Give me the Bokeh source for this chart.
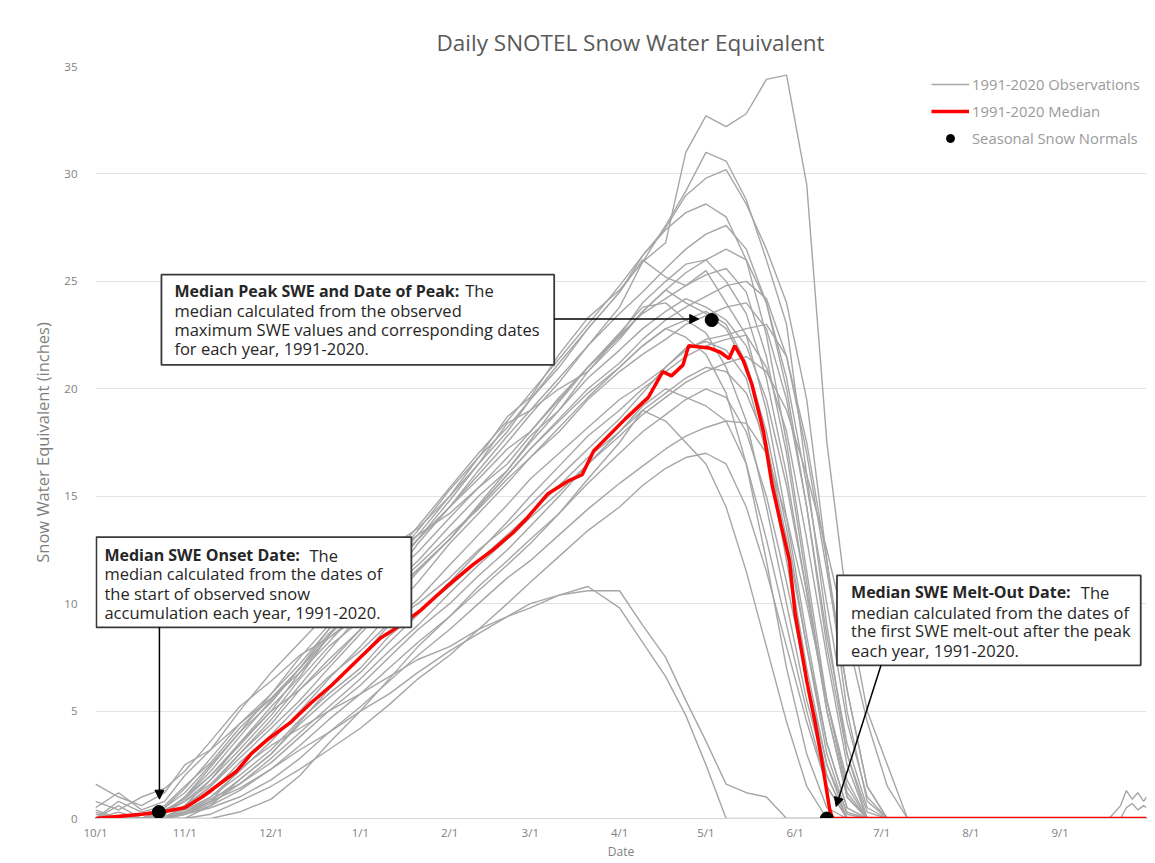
from bokeh.plotting import figure
from bokeh.models import (FixedTicker, BoxAnnotation, Label, Arrow, NormalHead,
                          Legend, LegendItem, Range1d)
from bokeh.embed import file_html
from bokeh.resources import INLINE

# ---------------- data (days since Oct 1) ----------------
month_days = [0, 31, 61, 92, 123, 151, 182, 212, 243, 273, 304, 335]
month_labels = ["10/1", "11/1", "12/1", "1/1", "2/1", "3/1", "4/1", "5/1", "6/1", "7/1", "8/1", "9/1"]
y_ticks = [0, 5, 10, 15, 20, 25, 30, 35]

grid_days = [0, 8, 16, 24, 31, 40, 50, 61, 71, 81, 92, 102, 112, 123, 133, 143, 151, 161,
             171, 182, 190, 198, 205, 212, 219, 226, 233, 240, 247, 254, 261, 268, 275, 282, 292]

obs_01 = [0, 0, 0, 0.3, 0.8, 1.8, 3.5, 5.2, 6.6, 8.5, 10.0, 11.9, 13.4, 15.3, 16.8, 18.7, 19.6, 21.6,
          23.3, 24.6, 25.9, 26.8, 31.0, 32.7, 32.2, 32.8, 34.4, 34.6, 29.5, 17.5, 10.0, 5.0, 2.5, 0]
obs_02 = [0, 0, 0, 0, 0.5, 1.5, 3.0, 4.6, 6.2, 7.8, 9.5, 11.0, 12.8, 14.5, 16.0, 17.5, 18.8, 20.3,
          22.0, 23.8, 25.9, 27.6, 29.2, 31.0, 30.6, 28.8, 26.0, 23.0, 16.0, 9.0, 3.0, 0]
obs_03 = [0.3, 0, 0, 0.2, 1.0, 2.2, 3.8, 5.5, 7.0, 8.6, 10.0, 11.5, 13.0, 14.8, 16.5, 18.0, 19.5, 21.2,
          22.8, 24.5, 26.2, 27.5, 29.0, 29.8, 30.2, 28.6, 26.5, 24.0, 19.5, 12.0, 5.0, 0.8, 0]
obs_04 = [0.5, 1.2, 0.4, 0.8, 2.0, 3.2, 5.0, 6.8, 8.2, 9.6, 11.0, 12.6, 13.5, 15.0, 16.8, 18.2, 19.5, 21.0,
          22.8, 24.5, 26.0, 25.2, 24.8, 25.5, 24.0, 22.5, 19.0, 14.0, 8.5, 3.5, 0.5, 0]
obs_05 = [0, 0, 0.2, 0.5, 1.2, 2.5, 4.0, 5.8, 7.2, 8.8, 10.4, 11.8, 13.0, 14.5, 15.8, 17.2, 18.0, 19.5,
          21.0, 22.5, 23.5, 24.2, 24.8, 25.3, 25.6, 24.5, 21.5, 17.0, 11.0, 5.0, 1.0, 0]
obs_06 = [0, 0.6, 0, 0, 0.6, 1.8, 3.2, 4.8, 6.5, 8.0, 9.2, 10.8, 12.0, 13.6, 15.0, 16.2, 17.5, 19.0,
          20.8, 22.3, 23.6, 24.6, 24.0, 23.5, 22.8, 21.0, 17.5, 12.5, 7.0, 2.5, 0]
obs_07 = [0, 0, 0, 0, 0.3, 1.0, 2.2, 3.6, 5.0, 6.5, 8.0, 9.5, 11.0, 12.8, 14.2, 15.6, 16.8, 18.0,
          19.5, 20.8, 21.6, 22.3, 23.0, 23.4, 23.8, 24.0, 22.8, 19.5, 14.5, 8.5, 3.5, 0.5, 0]
obs_08 = [0.2, 0, 0, 0.4, 0.9, 2.0, 3.5, 5.0, 6.0, 7.4, 8.8, 10.2, 11.6, 13.0, 14.5, 16.0, 17.2, 18.5,
          19.8, 21.0, 22.0, 22.8, 23.2, 23.6, 23.0, 21.2, 18.0, 13.5, 8.0, 3.0, 0.2, 0]
obs_09 = [0, 0, 0, 0, 0, 0.6, 1.8, 3.0, 4.5, 6.0, 7.5, 9.0, 10.2, 11.8, 13.2, 14.6, 15.8, 17.0,
          18.2, 19.5, 20.2, 21.0, 21.8, 22.3, 22.5, 22.8, 23.0, 21.5, 17.5, 12.0, 6.0, 1.5, 0]
obs_10 = [0, 0, 0, 0.1, 0.5, 1.2, 2.6, 3.9, 5.3, 6.6, 7.8, 9.1, 10.0, 11.2, 12.5, 13.6, 14.6, 15.9,
          17.2, 18.6, 19.8, 21.0, 21.9, 22.2, 21.8, 20.5, 17.0, 12.0, 6.5, 2.0, 0]
obs_11 = [0, 0, 0, 0, 0.4, 1.0, 2.0, 3.2, 4.6, 5.8, 7.0, 8.5, 9.6, 10.8, 12.0, 13.2, 14.2, 15.5,
          16.8, 18.0, 19.0, 19.8, 20.5, 21.0, 20.8, 19.8, 17.5, 13.0, 8.0, 3.5, 0.5, 0]
obs_12 = [0, 0.3, 0, 0, 0.2, 0.8, 1.8, 3.0, 4.4, 5.6, 6.8, 8.2, 9.5, 11.0, 12.4, 13.8, 15.0, 16.4,
          17.8, 19.0, 20.0, 20.8, 21.5, 22.0, 22.3, 22.5, 21.0, 18.0, 13.0, 7.5, 2.5, 0]
obs_13 = [0, 0, 0, 0, 0.3, 0.9, 1.6, 2.6, 3.8, 5.0, 6.2, 7.5, 8.8, 10.0, 11.3, 12.5, 13.6, 15.0,
          16.5, 18.0, 19.2, 20.0, 19.6, 19.2, 18.5, 16.5, 13.0, 9.0, 5.0, 1.5, 0]
obs_14 = [0, 0, 0, 0, 0.2, 0.6, 1.3, 2.3, 3.4, 4.6, 5.8, 7.0, 8.2, 9.4, 10.6, 11.8, 12.8, 14.2,
          15.8, 17.5, 19.0, 18.5, 17.5, 16.5, 14.5, 11.5, 8.0, 4.5, 1.5, 0]
obs_15 = [0, 0, 0, 0, 0.3, 0.8, 2.3, 3.4, 4.2, 5.0, 5.8, 6.6, 7.4, 8.0, 8.8, 9.4, 9.8, 10.4,
          10.8, 9.8, 8.2, 6.6, 4.8, 2.5, 0]
obs_16 = [0, 0, 0, 0, 0.3, 0.8, 1.4, 2.3, 3.2, 4.0, 5.0, 5.8, 6.8, 7.8, 8.6, 9.4, 10.0, 10.4,
          10.6, 10.6, 9.0, 7.5, 5.5, 3.6, 1.6, 1.2, 1.0, 0]
obs_17 = [0, 0, 0, 0, 0, 0, 0.3, 0.9, 2.0, 3.5, 5.0, 6.5, 8.0, 9.4, 10.8, 12.0, 13.0, 14.2,
          15.6, 17.0, 18.0, 18.8, 19.5, 20.0, 19.6, 18.0, 15.0, 11.0, 6.5, 2.5, 0.3, 0]
obs_18 = [1.6, 1.0, 0.6, 1.2, 2.5, 3.2, 4.4, 5.6, 6.8, 8.5, 10.5, 11.8, 13.2, 15.0, 16.5, 18.4, 19.0, 20.0,
          20.8, 22.5, 24.0, 25.0, 25.8, 26.0, 25.0, 23.5, 20.5, 16.0, 10.5, 5.0, 1.0, 0]
obs_19 = [0, 0, 0, 0.5, 1.4, 2.8, 4.4, 5.8, 7.5, 9.0, 10.8, 12.2, 13.2, 14.2, 15.4, 16.5, 17.8, 19.0,
          20.5, 21.8, 22.8, 23.6, 24.2, 23.8, 23.2, 22.0, 19.5, 15.5, 10.5, 5.5, 1.5, 0]
obs_20 = [0, 0, 0, 0.3, 1.0, 2.0, 3.4, 5.0, 6.8, 8.2, 9.8, 11.4, 13.0, 14.5, 16.2, 17.8, 19.0, 20.5,
          22.0, 23.5, 24.5, 25.6, 26.5, 27.2, 27.6, 26.5, 24.0, 20.0, 14.5, 8.0, 3.0, 0.3, 0]
obs_21 = [0, 0, 0, 0, 0.2, 0.7, 1.6, 2.8, 4.0, 5.2, 6.5, 7.8, 9.0, 10.5, 11.8, 13.0, 14.0, 15.2,
          16.5, 17.8, 18.8, 19.6, 20.3, 20.8, 21.2, 21.5, 20.8, 19.0, 16.0, 12.5, 8.5, 4.5, 1.5, 0]
obs_22 = [0, 0, 0, 0, 0, 0.2, 0.8, 1.5, 2.3, 3.2, 4.2, 5.3, 6.5, 7.6, 8.8, 10.0, 11.0, 12.2,
          13.4, 14.5, 15.5, 16.3, 16.8, 17.0, 16.5, 14.5, 11.5, 8.0, 4.5, 1.5, 0]
obs_23 = [0.4, 0, 0, 0, 0.6, 1.5, 2.8, 4.2, 5.5, 7.0, 8.6, 10.0, 11.5, 13.0, 14.5, 16.0, 17.2, 18.6,
          20.0, 21.2, 22.3, 23.2, 23.8, 24.3, 24.8, 25.0, 24.2, 21.5, 17.0, 11.5, 6.0, 1.5, 0]
obs_24 = [0, 0, 0, 0.2, 1.0, 2.4, 4.0, 5.4, 7.0, 8.8, 10.6, 12.0, 13.6, 15.4, 17.0, 18.5, 19.8, 21.4,
          23.0, 24.8, 26.2, 27.4, 28.2, 28.6, 28.0, 26.0, 22.5, 17.5, 11.5, 5.5, 1.2, 0]
obs_25 = [0, 0, 0, 0.3, 0.8, 1.6, 3.0, 4.4, 6.0, 7.2, 8.8, 10.4, 11.6, 13.0, 14.6, 16.2, 17.6, 19.4,
          21.0, 22.6, 23.8, 24.0, 23.2, 22.6, 21.0, 18.5, 14.5, 10.0, 5.5, 2.0, 0]
obs_26 = [0, 0.8, 0.3, 0.6, 1.5, 2.6, 4.2, 5.6, 7.0, 8.4, 9.6, 11.2, 12.4, 14.0, 15.4, 16.8, 18.0, 19.6,
          21.0, 22.4, 23.6, 24.6, 25.4, 26.0, 26.5, 26.0, 24.0, 20.5, 15.5, 10.0, 4.5, 1.0, 0]
obs_27 = [0, 0, 0, 0, 0.2, 0.5, 1.0, 1.8, 2.8, 4.0, 5.2, 6.4, 7.6, 8.8, 10.0, 11.2, 12.0, 13.2,
          14.4, 15.6, 16.4, 17.2, 17.8, 18.2, 18.5, 18.4, 17.0, 14.0, 10.0, 5.5, 1.8, 0]
obs_28 = [0.8, 0.4, 1.0, 1.4, 2.2, 3.6, 5.2, 6.4, 7.6, 8.4, 9.4, 10.6, 11.8, 13.2, 14.4, 15.8, 16.8, 18.2,
          19.6, 21.0, 22.0, 22.8, 22.4, 21.6, 19.8, 16.5, 12.0, 7.0, 3.0, 0.5, 0]

late_days = [340, 352, 356, 358, 360, 362, 364, 365]
late_obs_1 = [0, 0, 0.6, 1.3, 0.9, 1.2, 0.8, 1.0]
late_obs_2 = [0, 0, 0, 0.5, 0.7, 0.4, 0.6, 0.5]

median_days = [0, 16, 23, 31, 37, 42, 49, 54, 60, 68, 75, 82, 92, 99, 106, 113, 122, 131, 138, 145,
               150, 157, 164, 169, 173, 184, 192, 197, 200, 204, 206, 213, 217, 220, 222, 225, 228,
               232, 235, 238, 241, 243, 247, 250, 252, 255, 256, 365]
median_vals = [0, 0.2, 0.3, 0.5, 1.0, 1.5, 2.2, 3.0, 3.7, 4.5, 5.4, 6.2, 7.5, 8.4, 9.0, 9.7, 10.8, 11.8,
               12.5, 13.3, 14.0, 15.1, 15.7, 16.0, 17.1, 18.6, 19.6, 20.8, 20.6, 21.1, 22.0, 21.9, 21.7,
               21.4, 22.0, 21.3, 20.2, 18.0, 15.5, 13.7, 12.0, 9.5, 6.4, 4.4, 2.9, 0.4, 0, 0]

normal_days = [22, 214, 254]
normal_vals = [0.3, 23.2, 0.0]

obs_series = [obs_01, obs_02, obs_03, obs_04, obs_05, obs_06, obs_07, obs_08, obs_09, obs_10,
              obs_11, obs_12, obs_13, obs_14, obs_15, obs_16, obs_17, obs_18, obs_19, obs_20,
              obs_21, obs_22, obs_23, obs_24, obs_25, obs_26, obs_27, obs_28]

# ---------------- figure ----------------
FONT = "Open Sans"
TXT = "#7f7f7f"

p = figure(width=1151, height=862, output_backend="svg", toolbar_location=None,
           x_range=Range1d(0, 365), y_range=Range1d(0, 35),
           min_border_left=95, min_border_right=5, min_border_top=66, min_border_bottom=37)
p.outline_line_color = None
p.background_fill_color = "white"
p.border_fill_color = "white"

p.title.text = "Daily SNOTEL Snow Water Equivalent"
p.title.text_font = FONT
p.title.text_font_size = "22.5px"
p.title.text_font_style = "normal"
p.title.text_color = "#595959"
p.title.align = "left"
p.title.offset = 341
p.title.standoff = 17

p.xgrid.grid_line_color = None
p.ygrid.grid_line_color = "#e3e3e3"
p.ygrid.grid_line_width = 1

p.xaxis.ticker = FixedTicker(ticks=month_days)
p.xaxis.major_label_overrides = {d: l for d, l in zip(month_days, month_labels)}
p.yaxis.ticker = FixedTicker(ticks=y_ticks)
for ax in (p.xaxis, p.yaxis):
    ax.major_tick_line_color = None
    ax.minor_tick_line_color = None
    ax.major_tick_out = 0
    ax.major_tick_in = 0
    ax.minor_tick_out = 0
    ax.minor_tick_in = 0
    ax.major_label_text_font = FONT
    ax.major_label_text_color = TXT
    ax.major_label_text_font_size = "11.5px"
    ax.axis_label_text_font = FONT
    ax.axis_label_text_font_style = "normal"
    ax.axis_label_text_color = TXT
p.xaxis.axis_label_text_font_size = "12px"
p.yaxis.axis_label_text_font_size = "16.5px"
p.yaxis.axis_line_color = None
p.xaxis.axis_line_color = "#d9d9d9"
p.xaxis.major_label_standoff = 6
p.xaxis.axis_label = "Date"
p.xaxis.axis_label_standoff = 0
p.yaxis.axis_label = "Snow Water Equivalent (inches)"
p.yaxis.major_label_standoff = 18
p.yaxis.axis_label_standoff = 7

GRAY = "#a6a6a6"
obs_renderer = None
for vals in obs_series:
    xs = grid_days[:len(vals)] + [365]
    ys = list(vals) + [0]
    r = p.line(xs, ys, line_color=GRAY, line_width=1.4)
    if obs_renderer is None:
        obs_renderer = r
p.line(late_days, late_obs_1, line_color=GRAY, line_width=1.4)
p.line(late_days, late_obs_2, line_color=GRAY, line_width=1.4)

med_renderer = p.line(median_days, median_vals, line_color="#ff0000", line_width=3.5)
norm_renderer = p.scatter(normal_days, normal_vals, size=13, fill_color="black", line_color="black")

legend = Legend(items=[LegendItem(label="1991-2020 Observations", renderers=[obs_renderer]),
                       LegendItem(label="1991-2020 Median", renderers=[med_renderer]),
                       LegendItem(label="Seasonal Snow Normals", renderers=[norm_renderer])],
                location=(836, 670), orientation="vertical",
                label_text_font=FONT, label_text_font_size="14.8px", label_text_color="#9a9a9a",
                glyph_width=38, glyph_height=20, label_height=20, spacing=7, padding=0, margin=0,
                label_standoff=3, border_line_color=None, background_fill_alpha=0)
p.add_layout(legend)

# annotation boxes
def add_box(left, right, top, bottom):
    p.add_layout(BoxAnnotation(left=left, right=right, top=top, bottom=bottom,
                               fill_color="white", fill_alpha=1.0,
                               line_color="#3a3a3a", line_width=1.8, line_alpha=1.0))

def add_text(x, y, text, bold=False):
    p.add_layout(Label(x=x, y=y, text=text, text_font=FONT,
                       text_font_size="16px" if bold else "16.5px",
                       text_font_style="bold" if bold else "normal",
                       text_color="#262626", text_baseline="middle", text_align="left"))

# peak box
add_box(22.9, 159.3, 25.31, 21.11)
add_text(27.4, 24.56, "Median Peak SWE and Date of Peak:", bold=True)
add_text(128.4, 24.56, "The")
add_text(27.4, 23.63, "median calculated from the observed")
add_text(27.4, 22.74, "maximum SWE values and corresponding dates")
add_text(27.4, 21.86, "for each year, 1991-2020.")

# onset box
add_box(0.3, 109.7, 13.10, 8.90)
add_text(3.1, 12.26, "Median SWE Onset Date:", bold=True)
add_text(74.3, 12.26, "The")
add_text(3.1, 11.42, "median calculated from the dates of")
add_text(3.1, 10.49, "the start of observed snow")
add_text(3.1, 9.60, "accumulation each year, 1991-2020.")

# melt-out box
add_box(257.5, 363.0, 11.32, 7.13)
add_text(262.4, 10.53, "Median SWE Melt-Out Date:", bold=True)
add_text(342.2, 10.53, "The")
add_text(262.4, 9.60, "median calculated from the dates of")
add_text(262.4, 8.76, "the first SWE melt-out after the peak")
add_text(262.4, 7.83, "each year, 1991-2020.")

# arrows
def add_arrow(x0, y0, x1, y1):
    p.add_layout(Arrow(end=NormalHead(size=9, fill_color="black", line_color="black"),
                       x_start=x0, y_start=y0, x_end=x1, y_end=y1,
                       line_color="black", line_width=1.5))

add_arrow(159.3, normal_vals[1] + 0.05, normal_days[1] - 4.5, normal_vals[1] + 0.05)
add_arrow(normal_days[0] + 0.2, 8.90, normal_days[0] + 0.2, normal_vals[0] + 0.6)
add_arrow(272.8, 7.13, normal_days[2] + 3.2, normal_vals[2] + 0.56)

open("out.html", "w").write(file_html(p, INLINE))
